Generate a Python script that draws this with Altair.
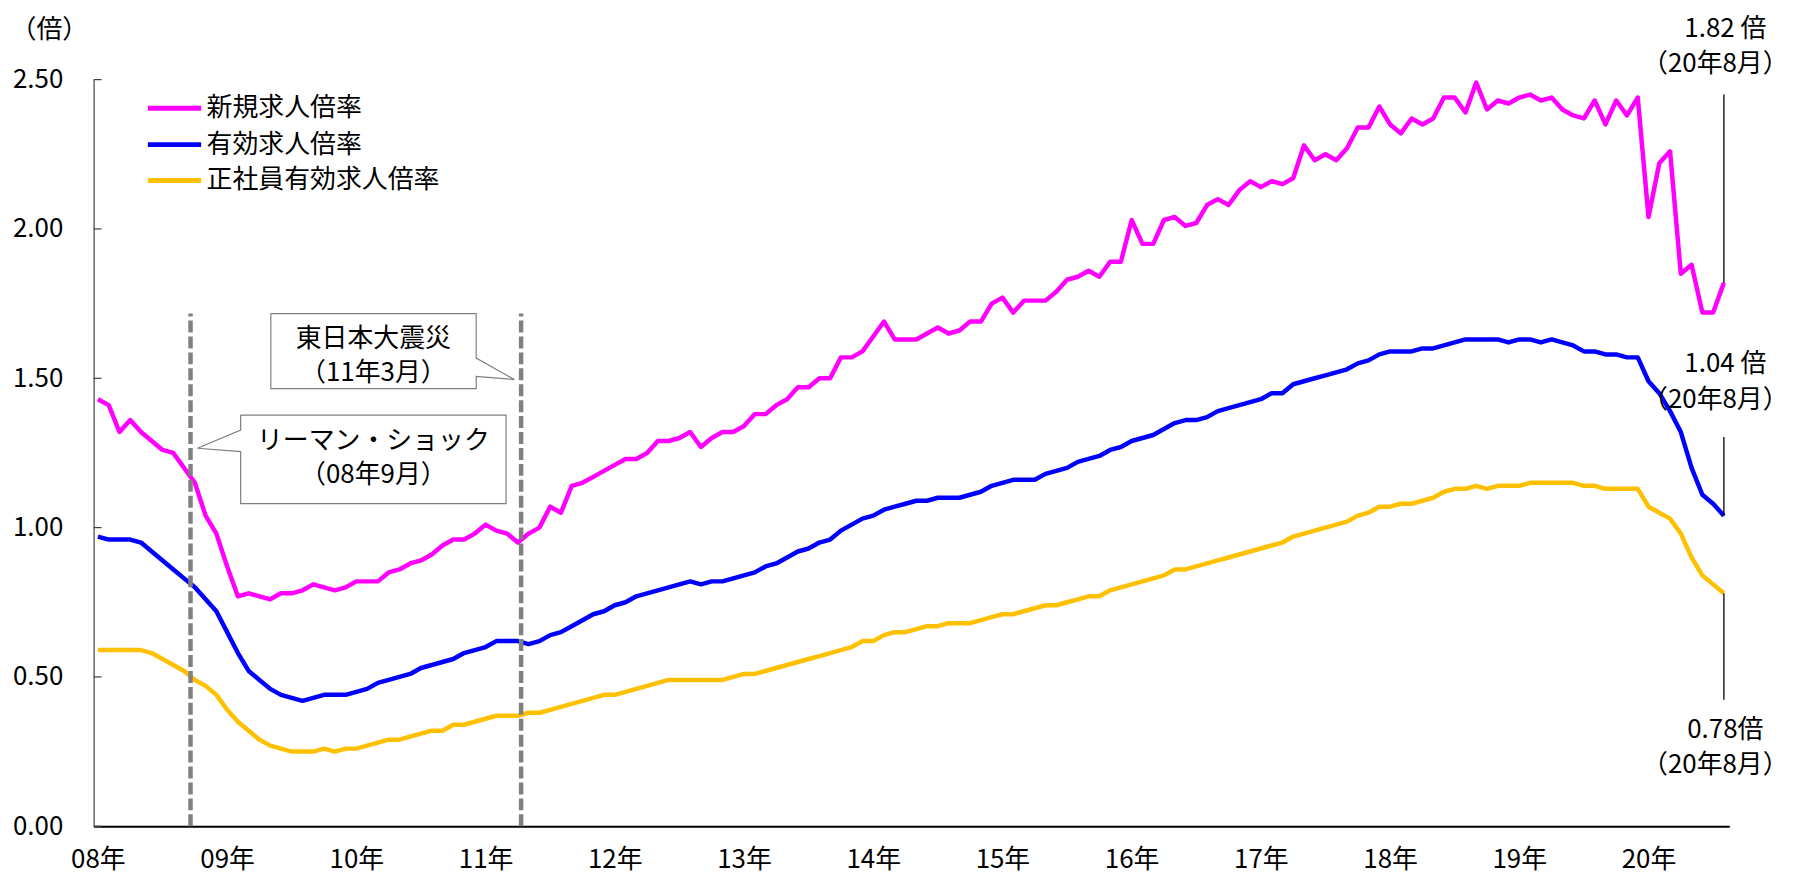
import json
import altair as alt
import pandas as pd

FONT = "Noto Sans CJK JP"

# ---------------- data ----------------
year_labels = ["08年", "09年", "10年", "11年", "12年", "13年", "14年",
               "15年", "16年", "17年", "18年", "19年", "20年"]
series_names = ["新規求人倍率", "有効求人倍率", "正社員有効求人倍率"]
series_colors = ["#FF00FF", "#0000FF", "#FFC000"]

# monthly values, 2008-01 ... 2020-08
new_ratio = [
    1.43, 1.41, 1.32, 1.36, 1.32, 1.29, 1.26, 1.25, 1.20, 1.15, 1.04, 0.98,
    0.87, 0.77, 0.78, 0.77, 0.76, 0.78, 0.78, 0.79, 0.81, 0.80, 0.79, 0.80,
    0.82, 0.82, 0.82, 0.85, 0.86, 0.88, 0.89, 0.91, 0.94, 0.96, 0.96, 0.98,
    1.01, 0.99, 0.98, 0.95, 0.98, 1.00, 1.07, 1.05, 1.14, 1.15, 1.17, 1.19,
    1.21, 1.23, 1.23, 1.25, 1.29, 1.29, 1.30, 1.32, 1.27, 1.30, 1.32, 1.32,
    1.34, 1.38, 1.38, 1.41, 1.43, 1.47, 1.47, 1.50, 1.50, 1.57, 1.57, 1.59,
    1.64, 1.69, 1.63, 1.63, 1.63, 1.65, 1.67, 1.65, 1.66, 1.69, 1.69, 1.75,
    1.77, 1.72, 1.76, 1.76, 1.76, 1.79, 1.83, 1.84, 1.86, 1.84, 1.89, 1.89,
    2.03, 1.95, 1.95, 2.03, 2.04, 2.01, 2.02, 2.08, 2.10, 2.08, 2.13, 2.16,
    2.14, 2.16, 2.15, 2.17, 2.28, 2.23, 2.25, 2.23, 2.27, 2.34, 2.34, 2.41,
    2.35, 2.32, 2.37, 2.35, 2.37, 2.44, 2.44, 2.39, 2.49, 2.40, 2.43, 2.42,
    2.44, 2.45, 2.43, 2.44, 2.40, 2.38, 2.37, 2.43, 2.35, 2.43, 2.38, 2.44,
    2.04, 2.22, 2.26, 1.85, 1.88, 1.72, 1.72, 1.82,
]
eff_ratio = [
    0.97, 0.96, 0.96, 0.96, 0.95, 0.92, 0.89, 0.86, 0.83, 0.80, 0.76, 0.72,
    0.65, 0.58, 0.52, 0.49, 0.46, 0.44, 0.43, 0.42, 0.43, 0.44, 0.44, 0.44,
    0.45, 0.46, 0.48, 0.49, 0.50, 0.51, 0.53, 0.54, 0.55, 0.56, 0.58, 0.59,
    0.60, 0.62, 0.62, 0.62, 0.61, 0.62, 0.64, 0.65, 0.67, 0.69, 0.71, 0.72,
    0.74, 0.75, 0.77, 0.78, 0.79, 0.80, 0.81, 0.82, 0.81, 0.82, 0.82, 0.83,
    0.84, 0.85, 0.87, 0.88, 0.90, 0.92, 0.93, 0.95, 0.96, 0.99, 1.01, 1.03,
    1.04, 1.06, 1.07, 1.08, 1.09, 1.09, 1.10, 1.10, 1.10, 1.11, 1.12, 1.14,
    1.15, 1.16, 1.16, 1.16, 1.18, 1.19, 1.20, 1.22, 1.23, 1.24, 1.26, 1.27,
    1.29, 1.30, 1.31, 1.33, 1.35, 1.36, 1.36, 1.37, 1.39, 1.40, 1.41, 1.42,
    1.43, 1.45, 1.45, 1.48, 1.49, 1.50, 1.51, 1.52, 1.53, 1.55, 1.56, 1.58,
    1.59, 1.59, 1.59, 1.60, 1.60, 1.61, 1.62, 1.63, 1.63, 1.63, 1.63, 1.62,
    1.63, 1.63, 1.62, 1.63, 1.62, 1.61, 1.59, 1.59, 1.58, 1.58, 1.57, 1.57,
    1.49, 1.45, 1.39, 1.32, 1.20, 1.11, 1.08, 1.04,
]
reg_ratio = [
    0.59, 0.59, 0.59, 0.59, 0.59, 0.58, 0.56, 0.54, 0.52, 0.49, 0.47, 0.44,
    0.39, 0.35, 0.32, 0.29, 0.27, 0.26, 0.25, 0.25, 0.25, 0.26, 0.25, 0.26,
    0.26, 0.27, 0.28, 0.29, 0.29, 0.30, 0.31, 0.32, 0.32, 0.34, 0.34, 0.35,
    0.36, 0.37, 0.37, 0.37, 0.38, 0.38, 0.39, 0.40, 0.41, 0.42, 0.43, 0.44,
    0.44, 0.45, 0.46, 0.47, 0.48, 0.49, 0.49, 0.49, 0.49, 0.49, 0.49, 0.50,
    0.51, 0.51, 0.52, 0.53, 0.54, 0.55, 0.56, 0.57, 0.58, 0.59, 0.60, 0.62,
    0.62, 0.64, 0.65, 0.65, 0.66, 0.67, 0.67, 0.68, 0.68, 0.68, 0.69, 0.70,
    0.71, 0.71, 0.72, 0.73, 0.74, 0.74, 0.75, 0.76, 0.77, 0.77, 0.79, 0.80,
    0.81, 0.82, 0.83, 0.84, 0.86, 0.86, 0.87, 0.88, 0.89, 0.90, 0.91, 0.92,
    0.93, 0.94, 0.95, 0.97, 0.98, 0.99, 1.00, 1.01, 1.02, 1.04, 1.05, 1.07,
    1.07, 1.08, 1.08, 1.09, 1.10, 1.12, 1.13, 1.13, 1.14, 1.13, 1.14, 1.14,
    1.14, 1.15, 1.15, 1.15, 1.15, 1.15, 1.14, 1.14, 1.13, 1.13, 1.13, 1.13,
    1.07, 1.05, 1.03, 0.98, 0.90, 0.84, 0.81, 0.78,
]
y_ticks = [0.0, 0.5, 1.0, 1.5, 2.0, 2.5]

# events (month index of the dashed lines, as drawn)
event_pos = [8.6, 39.3]
event_text = [["リーマン・ショック", "（08年9月）"], ["東日本大震災", "（11年3月）"]]

# latest values (20年8月)
end_text = [["1.82 倍", "（20年8月）"], ["1.04 倍", "（20年8月）"], ["0.78倍", "（20年8月）"]]

# ---------------- layout (style constants, page pixels) ----------------
W, H = 1643, 750
PL, PT = 94, 78
XMIN, XMAX = -0.4, 151.5
YMAX = 2.5


def dx(px):
    return XMIN + (px - PL) * (XMAX - XMIN) / W


def dy(py):
    return YMAX * (1 - (py - PT) / H)


xscale = alt.Scale(domain=[XMIN, XMAX], nice=False, zero=False)
yscale = alt.Scale(domain=[0, YMAX], nice=False, zero=False)

label_expr = json.dumps(year_labels, ensure_ascii=False) + "[floor(datum.value / 12)]"

xaxis = alt.Axis(
    values=[12 * k for k in range(len(year_labels))], labelExpr=label_expr,
    ticks=False, tickSize=0, grid=False, domain=True, domainColor="#000000", domainWidth=2,
    labelFont=FONT, labelFontSize=26, labelColor="#000000", labelPadding=20,
    labelFlush=False, labelOverlap=False, title=None)
yaxis = alt.Axis(
    values=y_ticks, format=".2f", ticks=False, tickSize=0, grid=False, domain=True,
    domainColor="#404040", domainWidth=1.2,
    labelFont=FONT, labelFontSize=26, labelColor="#000000", labelPadding=31,
    title="（倍）", titleAngle=0, titleX=-45, titleY=-50, titleAlign="center",
    titleBaseline="middle", titleFont=FONT, titleFontSize=26,
    titleFontWeight="normal", titleColor="#000000")


def X(field):
    return alt.X(field, type="quantitative", scale=xscale, axis=xaxis)


def Y(field):
    return alt.Y(field, type="quantitative", scale=yscale, axis=yaxis)


n = len(new_ratio)
rows = []
for name, vals in zip(series_names, [new_ratio, eff_ratio, reg_ratio]):
    for i, v in enumerate(vals):
        rows.append({"t": i, "v": v, "s": name})
df = pd.DataFrame(rows)

color_enc = alt.Color("s:N", scale=alt.Scale(domain=series_names, range=series_colors), legend=None)

lines = alt.Chart(df).mark_line(strokeWidth=4.5, strokeJoin="round").encode(
    x=X("t"), y=Y("v"), color=color_enc)

# inward y ticks
ytick_df = pd.DataFrame({"t": [0.0] * len(y_ticks), "v": y_ticks})
yticks = alt.Chart(ytick_df).mark_rule(color="#404040", strokeWidth=1.2).encode(
    y=Y("v"), x=alt.value(0), x2=alt.value(8))

# dashed event lines
ev_df = pd.DataFrame({"t": event_pos, "v": [0.0, 0.0], "v2": [dy(313), dy(313)]})
events = alt.Chart(ev_df).mark_rule(color="#808080", strokeWidth=4.5, strokeDash=[12, 4]).encode(
    x=X("t"), y=Y("v"), y2="v2:Q")

# callout shapes
callout_px = [
    [(241.7, 415), (508.3, 415), (508.3, 504), (241.7, 504), (241.7, 451.7),
     (198.3, 448.3), (241.7, 430), (241.7, 415)],
    [(272, 313), (478.3, 313), (478.3, 357.7), (516.7, 379.3), (478.3, 376),
     (478.3, 388.3), (272, 388.3), (272, 313)],
]
crow = []
for cid, pts in enumerate(callout_px):
    for k, (px, py) in enumerate(pts):
        crow.append({"c": cid, "k": k, "t": dx(px), "v": dy(py)})
cdf = pd.DataFrame(crow)
callouts = alt.Chart(cdf).mark_line(fill="white", stroke="#7F7F7F", strokeWidth=1.2,
                                    strokeJoin="miter").encode(
    x=X("t"), y=Y("v"), order="k:Q", detail="c:N")

ctext_rows = []
for (l1, l2), (y1, y2) in zip(event_text, [(441, 475), (339, 373)]):
    ctext_rows.append({"t": dx(375), "v": dy(y1), "txt": l1})
    ctext_rows.append({"t": dx(375), "v": dy(y2), "txt": l2})
ctext = alt.Chart(pd.DataFrame(ctext_rows)).mark_text(
    font=FONT, fontSize=26, color="#000000", align="center", baseline="middle").encode(
    x=X("t"), y=Y("v"), text="txt:N")

# legend (manual)
leg_y = [106.7, 143.3, 179.3]
leg_df = pd.DataFrame({"s": series_names,
                       "t": [dx(148.5)] * 3, "t2": [dx(202)] * 3, "tt": [dx(207.5)] * 3,
                       "v": [dy(v) for v in leg_y]})
leg_lines = alt.Chart(leg_df).mark_rule(strokeWidth=5).encode(
    x=X("t"), x2="t2:Q", y=Y("v"), color=color_enc)
leg_text = alt.Chart(leg_df).mark_text(
    font=FONT, fontSize=26, color="#000000", align="left", baseline="middle").encode(
    x=X("tt"), y=Y("v"), text="s:N")

# latest-value labels and leaders
last = n - 1
end_vals = [new_ratio[last], eff_ratio[last], reg_ratio[last]]
end_label_y = [(27, 62), (364, 400), (731, 766)]
leader_span = [(93, None), (437, None), (None, 701)]
et_rows, ld_rows = [], []
for (l1, l2), (ya, yb), v, (top, bot) in zip(end_text, end_label_y, end_vals, leader_span):
    et_rows.append({"t": dx(1733), "v": dy(ya), "txt": l1})
    et_rows.append({"t": dx(1723), "v": dy(yb), "txt": l2})
    if top is not None:
        ld_rows.append({"t": float(last), "v": dy(top), "v2": v})
    else:
        ld_rows.append({"t": float(last), "v": v, "v2": dy(bot)})
end_txt = alt.Chart(pd.DataFrame(et_rows)).mark_text(
    font=FONT, fontSize=26, color="#000000", align="center", baseline="middle").encode(
    x=X("t"), y=Y("v"), text="txt:N")
leaders = alt.Chart(pd.DataFrame(ld_rows)).mark_rule(color="#000000", strokeWidth=1.3).encode(
    x=X("t"), y=Y("v"), y2="v2:Q")

chart = alt.layer(
    lines, events, yticks, callouts, ctext, leg_lines, leg_text, leaders, end_txt
).properties(
    width=W, height=H,
    autosize=alt.AutoSizeParams(type="none"),
    padding={"left": PL - 8, "top": PT - 8, "right": 62, "bottom": 46},
    background="white",
).configure_view(stroke=None)

chart.save("out.html", embed_options={"renderer": "svg", "actions": False})
